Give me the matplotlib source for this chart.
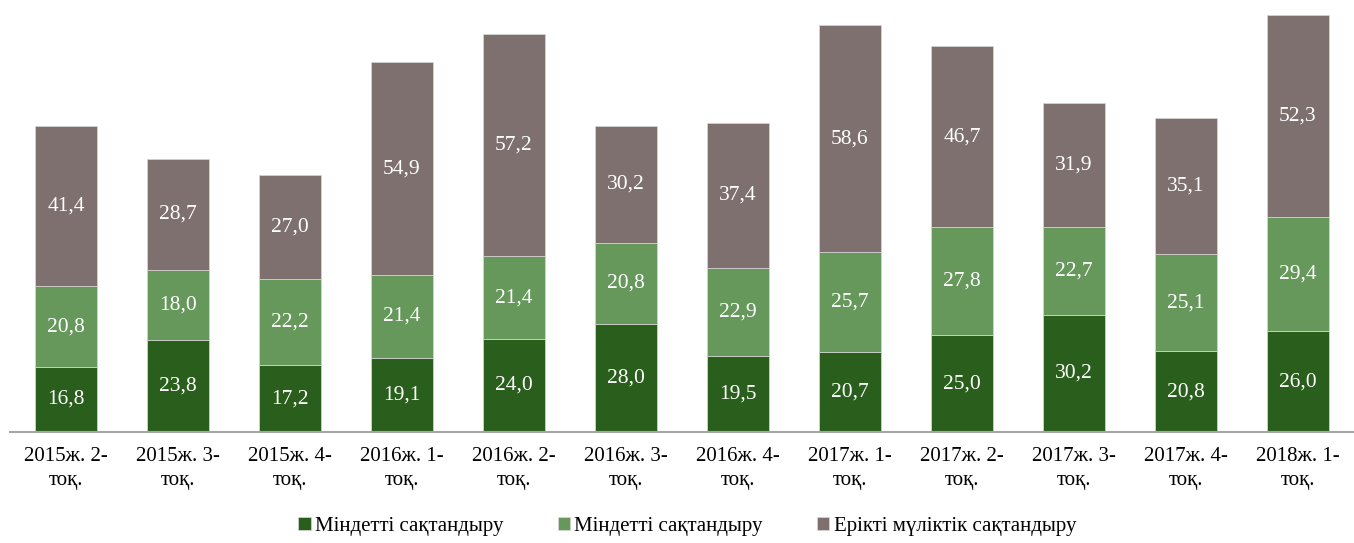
import numpy as np
import matplotlib.pyplot as plt

plt.rcParams['font.family'] = ['Liberation Serif', 'DejaVu Serif']

# Data
categories = ['2015ж. 2-\nтоқ.', '2015ж. 3-\nтоқ.', '2015ж. 4-\nтоқ.',
              '2016ж. 1-\nтоқ.', '2016ж. 2-\nтоқ.', '2016ж. 3-\nтоқ.',
              '2016ж. 4-\nтоқ.', '2017ж. 1-\nтоқ.', '2017ж. 2-\nтоқ.',
              '2017ж. 3-\nтоқ.', '2017ж. 4-\nтоқ.', '2018ж. 1-\nтоқ.']
series_names = ['Міндетті сақтандыру', 'Міндетті сақтандыру',
                'Ерікті мүліктік сақтандыру']
mandatory_1 = [16.8, 23.8, 17.2, 19.1, 24.0, 28.0, 19.5, 20.7, 25.0, 30.2, 20.8, 26.0]
mandatory_2 = [20.8, 18.0, 22.2, 21.4, 21.4, 20.8, 22.9, 25.7, 27.8, 22.7, 25.1, 29.4]
voluntary = [41.4, 28.7, 27.0, 54.9, 57.2, 30.2, 37.4, 58.6, 46.7, 31.9, 35.1, 52.3]
colors = ['#2a5e1c', '#66985c', '#7f7070']

fig = plt.figure(figsize=(13.54, 5.43), dpi=100)
ax = fig.add_axes([10 / 1354, 111 / 543, 1344 / 1354, 432 / 543])

x = np.arange(len(categories))
bottom = np.zeros(len(categories))
for vals, name, col in zip([mandatory_1, mandatory_2, voluntary], series_names, colors):
    vals = np.array(vals)
    ax.bar(x, vals, width=0.56, bottom=bottom, color=col, label=name,
           edgecolor='#d8d8d8', linewidth=0.5)
    for xi, b, v in zip(x, bottom, vals):
        ax.text(xi, b + v / 2, f'{v:.1f}'.replace('.', ','), ha='center', va='center',
                color='white', fontsize=15.5)
    bottom += vals

ax.set_xlim(-0.5, len(categories) - 0.5)
ax.set_ylim(0, 111.5)
ax.set_xticks(x)
ax.set_xticklabels(categories, fontsize=15, linespacing=1.35)
ax.tick_params(axis='x', length=0, pad=11)
ax.set_yticks([])
for side in ['top', 'right', 'left']:
    ax.spines[side].set_visible(False)
ax.spines['bottom'].set_color('#a6a6a6')
ax.spines['bottom'].set_linewidth(1.5)

fig.legend(loc='center', bbox_to_anchor=(0.5075, 0.03), ncol=3, frameon=False,
           fontsize=15, handlelength=0.6, handleheight=0.6, handletextpad=0.2,
           columnspacing=2.6)

fig.savefig('out.png', dpi=100)
